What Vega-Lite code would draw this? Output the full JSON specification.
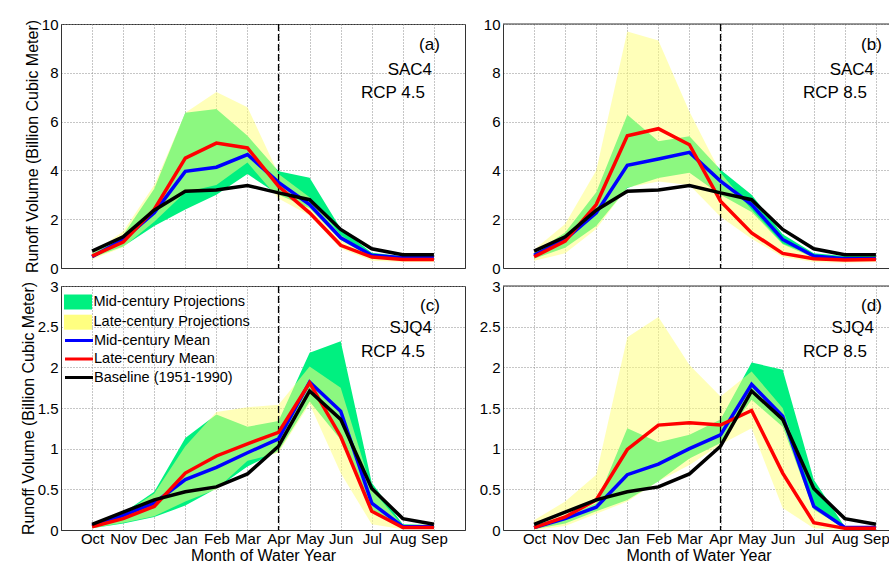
{
 "$schema": "https://vega.github.io/schema/vega-lite/v6.json",
 "padding": {"left": 19, "top": 16, "right": 0, "bottom": 0},
 "autosize": {"type": "pad"},
 "background": "white",
 "datasets": {
  "pa": [
   {"m":1,"mlo":0.42,"mhi":0.58,"llo":0.35,"lhi":0.62,"mm":0.46,"lm":0.49,"bl":0.69},
   {"m":2,"mlo":0.88,"mhi":1.35,"llo":0.85,"lhi":1.5,"mm":1.17,"lm":1.06,"bl":1.28},
   {"m":3,"mlo":1.72,"mhi":3.25,"llo":1.9,"lhi":3.4,"mm":2.26,"lm":2.4,"bl":2.37},
   {"m":4,"mlo":2.4,"mhi":6.36,"llo":3.1,"lhi":6.36,"mm":3.96,"lm":4.5,"bl":3.15},
   {"m":5,"mlo":3.0,"mhi":6.52,"llo":3.4,"lhi":7.21,"mm":4.13,"lm":5.12,"bl":3.2},
   {"m":6,"mlo":3.85,"mhi":5.42,"llo":4.32,"lhi":6.59,"mm":4.65,"lm":4.92,"bl":3.38},
   {"m":7,"mlo":3.0,"mhi":3.97,"llo":2.85,"lhi":3.85,"mm":3.51,"lm":3.35,"bl":3.08},
   {"m":8,"mlo":2.45,"mhi":3.7,"llo":2.15,"lhi":2.9,"mm":2.6,"lm":2.26,"bl":2.8},
   {"m":9,"mlo":1.15,"mhi":1.61,"llo":0.8,"lhi":1.35,"mm":1.24,"lm":0.93,"bl":1.58},
   {"m":10,"mlo":0.42,"mhi":0.62,"llo":0.3,"lhi":0.5,"mm":0.52,"lm":0.45,"bl":0.79},
   {"m":11,"mlo":0.33,"mhi":0.48,"llo":0.25,"lhi":0.42,"mm":0.42,"lm":0.35,"bl":0.54},
   {"m":12,"mlo":0.33,"mhi":0.48,"llo":0.25,"lhi":0.42,"mm":0.42,"lm":0.35,"bl":0.54}
  ],
  "pb": [
   {"m":1,"mlo":0.38,"mhi":0.63,"llo":0.3,"lhi":0.75,"mm":0.52,"lm":0.46,"bl":0.69},
   {"m":2,"mlo":0.83,"mhi":1.45,"llo":0.6,"lhi":1.8,"mm":1.17,"lm":1.1,"bl":1.28},
   {"m":3,"mlo":1.72,"mhi":3.1,"llo":1.6,"lhi":4.0,"mm":2.26,"lm":2.6,"bl":2.37},
   {"m":4,"mlo":3.28,"mhi":6.28,"llo":3.3,"lhi":9.69,"mm":4.21,"lm":5.42,"bl":3.15},
   {"m":5,"mlo":3.69,"mhi":5.19,"llo":3.55,"lhi":9.32,"mm":4.47,"lm":5.71,"bl":3.2},
   {"m":6,"mlo":3.9,"mhi":5.4,"llo":3.4,"lhi":6.4,"mm":4.74,"lm":5.05,"bl":3.38},
   {"m":7,"mlo":3.0,"mhi":4.03,"llo":2.1,"lhi":3.9,"mm":3.56,"lm":2.74,"bl":3.08},
   {"m":8,"mlo":2.3,"mhi":3.0,"llo":1.2,"lhi":2.4,"mm":2.6,"lm":1.44,"bl":2.8},
   {"m":9,"mlo":0.97,"mhi":1.38,"llo":0.45,"lhi":1.0,"mm":1.17,"lm":0.6,"bl":1.58},
   {"m":10,"mlo":0.42,"mhi":0.6,"llo":0.25,"lhi":0.5,"mm":0.49,"lm":0.38,"bl":0.79},
   {"m":11,"mlo":0.35,"mhi":0.49,"llo":0.22,"lhi":0.42,"mm":0.38,"lm":0.33,"bl":0.54},
   {"m":12,"mlo":0.35,"mhi":0.49,"llo":0.25,"lhi":0.42,"mm":0.38,"lm":0.35,"bl":0.54}
  ],
  "pc": [
   {"m":1,"mlo":0.02,"mhi":0.08,"llo":0.02,"lhi":0.08,"mm":0.05,"lm":0.04,"bl":0.07},
   {"m":2,"mlo":0.08,"mhi":0.21,"llo":0.09,"lhi":0.2,"mm":0.18,"lm":0.14,"bl":0.22},
   {"m":3,"mlo":0.16,"mhi":0.47,"llo":0.17,"lhi":0.45,"mm":0.33,"lm":0.29,"bl":0.37},
   {"m":4,"mlo":0.3,"mhi":1.13,"llo":0.35,"lhi":1.03,"mm":0.62,"lm":0.7,"bl":0.47},
   {"m":5,"mlo":0.51,"mhi":1.42,"llo":0.5,"lhi":1.45,"mm":0.77,"lm":0.91,"bl":0.53},
   {"m":6,"mlo":0.78,"mhi":1.27,"llo":0.85,"lhi":1.51,"mm":0.95,"lm":1.06,"bl":0.69},
   {"m":7,"mlo":0.97,"mhi":1.34,"llo":0.95,"lhi":1.54,"mm":1.12,"lm":1.2,"bl":1.03},
   {"m":8,"mlo":1.58,"mhi":2.18,"llo":1.55,"lhi":2.01,"mm":1.82,"lm":1.81,"bl":1.71},
   {"m":9,"mlo":1.11,"mhi":2.32,"llo":0.7,"lhi":1.75,"mm":1.46,"lm":1.15,"bl":1.36},
   {"m":10,"mlo":0.25,"mhi":0.58,"llo":0.07,"lhi":0.5,"mm":0.33,"lm":0.23,"bl":0.51},
   {"m":11,"mlo":0.02,"mhi":0.07,"llo":0.01,"lhi":0.05,"mm":0.04,"lm":0.03,"bl":0.14},
   {"m":12,"mlo":0.02,"mhi":0.06,"llo":0.01,"lhi":0.05,"mm":0.04,"lm":0.03,"bl":0.07}
  ],
  "pd": [
   {"m":1,"mlo":0.01,"mhi":0.06,"llo":0.0,"lhi":0.12,"mm":0.03,"lm":0.03,"bl":0.07},
   {"m":2,"mlo":0.08,"mhi":0.16,"llo":0.05,"lhi":0.35,"mm":0.14,"lm":0.16,"bl":0.22},
   {"m":3,"mlo":0.23,"mhi":0.33,"llo":0.2,"lhi":0.68,"mm":0.28,"lm":0.37,"bl":0.37},
   {"m":4,"mlo":0.37,"mhi":1.25,"llo":0.35,"lhi":2.37,"mm":0.68,"lm":0.99,"bl":0.47},
   {"m":5,"mlo":0.6,"mhi":1.08,"llo":0.6,"lhi":2.62,"mm":0.81,"lm":1.29,"bl":0.53},
   {"m":6,"mlo":0.88,"mhi":1.17,"llo":0.8,"lhi":2.03,"mm":1.0,"lm":1.32,"bl":0.69},
   {"m":7,"mlo":1.07,"mhi":1.36,"llo":1.05,"lhi":1.64,"mm":1.17,"lm":1.29,"bl":1.03},
   {"m":8,"mlo":1.6,"mhi":2.06,"llo":1.25,"lhi":1.95,"mm":1.79,"lm":1.47,"bl":1.71},
   {"m":9,"mlo":1.27,"mhi":1.97,"llo":0.27,"lhi":1.5,"mm":1.4,"lm":0.7,"bl":1.36},
   {"m":10,"mlo":0.25,"mhi":0.62,"llo":0.02,"lhi":0.3,"mm":0.29,"lm":0.09,"bl":0.51},
   {"m":11,"mlo":0.02,"mhi":0.04,"llo":0.0,"lhi":0.05,"mm":0.03,"lm":0.02,"bl":0.14},
   {"m":12,"mlo":0.02,"mhi":0.04,"llo":0.0,"lhi":0.05,"mm":0.03,"lm":0.02,"bl":0.07}
  ]
 },
 "columns": 2,
 "spacing": {"row": 18, "column": 38},
 "bounds": "flush",
 "resolve": {"scale": {"x": "independent", "y": "independent", "fill": "independent", "stroke": "independent"}, "legend": {"fill": "independent", "stroke": "independent"}},
 "concat": [
  {
   "width": 404, "height": 244,
   "data": {"name": "pa"},
   "layer": [
    {"mark": {"type": "area"}, "encoding": {
      "x": {"field": "m", "type": "quantitative", "scale": {"domain": [0, 13], "nice": false, "zero": false}, "axis": {"values": [1,2,3,4,5,6,7,8,9,10,11,12], "tickCount": 20, "labels": false, "title": null}},
      "y": {"field": "mlo", "type": "quantitative", "scale": {"domain": [0, 10], "nice": false}, "axis": {"values": [0,2,4,6,8,10], "tickCount": 20, "labelExpr": "'' + datum.value", "title": "Runoff Volume (Billion Cubic Meter)"}},
      "y2": {"field": "mhi"},
      "fill": {"datum": "Mid-century Projections", "type": "nominal", "scale": {"domain": ["Mid-century Projections","Late-century Projections"], "range": ["#00F080","#FFFF80"]}, "legend": null}}},
    {"mark": {"type": "area", "fillOpacity": 0.55}, "encoding": {"x": {"field": "m", "type": "quantitative"}, "y": {"field": "llo", "type": "quantitative"}, "y2": {"field": "lhi"}, "fill": {"datum": "Late-century Projections", "type": "nominal", "legend": null}}},
    {"data": {"values": [{}]}, "mark": {"type": "rule", "color": "#000", "strokeWidth": 1.3, "strokeDash": [7, 3]}, "encoding": {"x": {"datum": 7, "type": "quantitative"}}},
    {"mark": {"type": "line", "strokeWidth": 3.5}, "encoding": {"x": {"field": "m", "type": "quantitative"}, "y": {"field": "mm", "type": "quantitative"}, "stroke": {"datum": "Mid-century Mean", "type": "nominal", "scale": {"domain": ["Mid-century Mean","Late-century Mean","Baseline (1951-1990)"], "range": ["#0000FF","#FF0000","#000000"]}, "legend": null}}},
    {"mark": {"type": "line", "strokeWidth": 3.5}, "encoding": {"x": {"field": "m", "type": "quantitative"}, "y": {"field": "lm", "type": "quantitative"}, "stroke": {"datum": "Late-century Mean", "type": "nominal", "legend": null}}},
    {"mark": {"type": "line", "strokeWidth": 3.5}, "encoding": {"x": {"field": "m", "type": "quantitative"}, "y": {"field": "bl", "type": "quantitative"}, "stroke": {"datum": "Baseline (1951-1990)", "type": "nominal", "legend": null}}},
    {"data": {"values": [{}]}, "mark": {"type": "text", "text": "(a)", "align": "right", "baseline": "middle", "fontSize": 17, "color": "#000"}, "encoding": {"x": {"datum": 12.19, "type": "quantitative"}, "y": {"datum": 9.12, "type": "quantitative"}}},
    {"data": {"values": [{}]}, "mark": {"type": "text", "text": "SAC4", "align": "right", "baseline": "middle", "fontSize": 17, "color": "#000"}, "encoding": {"x": {"datum": 11.94, "type": "quantitative"}, "y": {"datum": 8.13, "type": "quantitative"}}},
    {"data": {"values": [{}]}, "mark": {"type": "text", "text": "RCP 4.5", "align": "right", "baseline": "middle", "fontSize": 17, "color": "#000"}, "encoding": {"x": {"datum": 11.71, "type": "quantitative"}, "y": {"datum": 7.16, "type": "quantitative"}}}
   ]
  },
  {
   "width": 391, "height": 244,
   "view": {"stroke": null},
   "data": {"name": "pb"},
   "layer": [
    {"mark": {"type": "area"}, "encoding": {
      "x": {"field": "m", "type": "quantitative", "scale": {"domain": [0, 12.582], "nice": false, "zero": false}, "axis": {"values": [1,2,3,4,5,6,7,8,9,10,11,12], "tickCount": 20, "labels": false, "title": null}},
      "y": {"field": "mlo", "type": "quantitative", "scale": {"domain": [0, 10], "nice": false}, "axis": {"values": [0,2,4,6,8,10], "tickCount": 20, "labelExpr": "'' + datum.value", "title": null}},
      "y2": {"field": "mhi"},
      "fill": {"datum": "Mid-century Projections", "type": "nominal", "scale": {"domain": ["Mid-century Projections","Late-century Projections"], "range": ["#00F080","#FFFF80"]}, "legend": null}}},
    {"mark": {"type": "area", "fillOpacity": 0.55}, "encoding": {"x": {"field": "m", "type": "quantitative"}, "y": {"field": "llo", "type": "quantitative"}, "y2": {"field": "lhi"}, "fill": {"datum": "Late-century Projections", "type": "nominal", "legend": null}}},
    {"data": {"values": [{}]}, "mark": {"type": "rule", "color": "#333", "strokeWidth": 1}, "encoding": {"y": {"datum": 10, "type": "quantitative"}}},
    {"data": {"values": [{}]}, "mark": {"type": "rule", "color": "#000", "strokeWidth": 1.3, "strokeDash": [7, 3]}, "encoding": {"x": {"datum": 7, "type": "quantitative"}}},
    {"mark": {"type": "line", "strokeWidth": 3.5}, "encoding": {"x": {"field": "m", "type": "quantitative"}, "y": {"field": "mm", "type": "quantitative"}, "stroke": {"datum": "Mid-century Mean", "type": "nominal", "scale": {"domain": ["Mid-century Mean","Late-century Mean","Baseline (1951-1990)"], "range": ["#0000FF","#FF0000","#000000"]}, "legend": null}}},
    {"mark": {"type": "line", "strokeWidth": 3.5}, "encoding": {"x": {"field": "m", "type": "quantitative"}, "y": {"field": "lm", "type": "quantitative"}, "stroke": {"datum": "Late-century Mean", "type": "nominal", "legend": null}}},
    {"mark": {"type": "line", "strokeWidth": 3.5}, "encoding": {"x": {"field": "m", "type": "quantitative"}, "y": {"field": "bl", "type": "quantitative"}, "stroke": {"datum": "Baseline (1951-1990)", "type": "nominal", "legend": null}}},
    {"data": {"values": [{}]}, "mark": {"type": "text", "text": "(b)", "align": "right", "baseline": "middle", "fontSize": 17, "color": "#000"}, "encoding": {"x": {"datum": 12.19, "type": "quantitative"}, "y": {"datum": 9.12, "type": "quantitative"}}},
    {"data": {"values": [{}]}, "mark": {"type": "text", "text": "SAC4", "align": "right", "baseline": "middle", "fontSize": 17, "color": "#000"}, "encoding": {"x": {"datum": 11.94, "type": "quantitative"}, "y": {"datum": 8.13, "type": "quantitative"}}},
    {"data": {"values": [{}]}, "mark": {"type": "text", "text": "RCP 8.5", "align": "right", "baseline": "middle", "fontSize": 17, "color": "#000"}, "encoding": {"x": {"datum": 11.71, "type": "quantitative"}, "y": {"datum": 7.16, "type": "quantitative"}}}
   ]
  },
  {
   "width": 404, "height": 244,
   "data": {"name": "pc"},
   "layer": [
    {"mark": {"type": "area"}, "encoding": {
      "x": {"field": "m", "type": "quantitative", "scale": {"domain": [0, 13], "nice": false, "zero": false}, "axis": {"values": [1,2,3,4,5,6,7,8,9,10,11,12], "tickCount": 20, "labelExpr": "['','Oct','Nov','Dec','Jan','Feb','Mar','Apr','May','Jun','Jul','Aug','Sep'][datum.value]", "labelOverlap": false, "title": "Month of Water Year"}},
      "y": {"field": "mlo", "type": "quantitative", "scale": {"domain": [0, 3], "nice": false}, "axis": {"values": [0,0.5,1,1.5,2,2.5,3], "tickCount": 20, "labelExpr": "'' + datum.value", "title": "Runoff Volume (Billion Cubic Meter)"}},
      "y2": {"field": "mhi"},
      "fill": {"datum": "Mid-century Projections", "type": "nominal", "scale": {"domain": ["Mid-century Projections","Late-century Projections"], "range": ["#00F080","#FFFF80"]},
        "legend": {"orient": "none", "legendX": 9.5, "legendY": 8.5, "title": null, "padding": 0, "labelFont": "Liberation Sans", "labelFontSize": 14.5, "labelColor": "#000", "labelOffset": 8, "rowPadding": 4.2, "symbolType": "M-1.87,-1H1.87V1H-1.87Z", "symbolSize": 225, "symbolStrokeWidth": 0, "symbolOpacity": 1}}}},
    {"mark": {"type": "area", "fillOpacity": 0.55}, "encoding": {"x": {"field": "m", "type": "quantitative"}, "y": {"field": "llo", "type": "quantitative"}, "y2": {"field": "lhi"}, "fill": {"datum": "Late-century Projections", "type": "nominal"}}},
    {"data": {"values": [{}]}, "mark": {"type": "rule", "color": "#000", "strokeWidth": 1.3, "strokeDash": [7, 3]}, "encoding": {"x": {"datum": 7, "type": "quantitative"}}},
    {"mark": {"type": "line", "strokeWidth": 3.5}, "encoding": {"x": {"field": "m", "type": "quantitative"}, "y": {"field": "mm", "type": "quantitative"}, "stroke": {"datum": "Mid-century Mean", "type": "nominal", "scale": {"domain": ["Mid-century Mean","Late-century Mean","Baseline (1951-1990)"], "range": ["#0000FF","#FF0000","#000000"]},
      "legend": {"orient": "none", "legendX": 9, "legendY": 45.5, "title": null, "padding": 0, "labelFont": "Liberation Sans", "labelFontSize": 14.5, "labelColor": "#000", "labelOffset": 6, "rowPadding": 2.5, "symbolType": "M-1.87,0H1.87", "symbolSize": 225, "symbolStrokeWidth": 3, "symbolOpacity": 1}}}},
    {"mark": {"type": "line", "strokeWidth": 3.5}, "encoding": {"x": {"field": "m", "type": "quantitative"}, "y": {"field": "lm", "type": "quantitative"}, "stroke": {"datum": "Late-century Mean", "type": "nominal"}}},
    {"mark": {"type": "line", "strokeWidth": 3.5}, "encoding": {"x": {"field": "m", "type": "quantitative"}, "y": {"field": "bl", "type": "quantitative"}, "stroke": {"datum": "Baseline (1951-1990)", "type": "nominal"}}},
    {"data": {"values": [{}]}, "mark": {"type": "text", "text": "(c)", "align": "right", "baseline": "middle", "fontSize": 17, "color": "#000"}, "encoding": {"x": {"datum": 12.19, "type": "quantitative"}, "y": {"datum": 2.76, "type": "quantitative"}}},
    {"data": {"values": [{}]}, "mark": {"type": "text", "text": "SJQ4", "align": "right", "baseline": "middle", "fontSize": 17, "color": "#000"}, "encoding": {"x": {"datum": 11.94, "type": "quantitative"}, "y": {"datum": 2.48, "type": "quantitative"}}},
    {"data": {"values": [{}]}, "mark": {"type": "text", "text": "RCP 4.5", "align": "right", "baseline": "middle", "fontSize": 17, "color": "#000"}, "encoding": {"x": {"datum": 11.71, "type": "quantitative"}, "y": {"datum": 2.19, "type": "quantitative"}}}
   ]
  },
  {
   "width": 391, "height": 244,
   "view": {"stroke": null},
   "data": {"name": "pd"},
   "layer": [
    {"mark": {"type": "area"}, "encoding": {
      "x": {"field": "m", "type": "quantitative", "scale": {"domain": [0, 12.582], "nice": false, "zero": false}, "axis": {"values": [1,2,3,4,5,6,7,8,9,10,11,12], "tickCount": 20, "labelExpr": "['','Oct','Nov','Dec','Jan','Feb','Mar','Apr','May','Jun','Jul','Aug','Sep'][datum.value]", "labelOverlap": false, "title": "Month of Water Year"}},
      "y": {"field": "mlo", "type": "quantitative", "scale": {"domain": [0, 3], "nice": false}, "axis": {"values": [0,0.5,1,1.5,2,2.5,3], "tickCount": 20, "labelExpr": "'' + datum.value", "title": null}},
      "y2": {"field": "mhi"},
      "fill": {"datum": "Mid-century Projections", "type": "nominal", "scale": {"domain": ["Mid-century Projections","Late-century Projections"], "range": ["#00F080","#FFFF80"]}, "legend": null}}},
    {"mark": {"type": "area", "fillOpacity": 0.55}, "encoding": {"x": {"field": "m", "type": "quantitative"}, "y": {"field": "llo", "type": "quantitative"}, "y2": {"field": "lhi"}, "fill": {"datum": "Late-century Projections", "type": "nominal", "legend": null}}},
    {"data": {"values": [{}]}, "mark": {"type": "rule", "color": "#333", "strokeWidth": 1}, "encoding": {"y": {"datum": 3, "type": "quantitative"}}},
    {"data": {"values": [{}]}, "mark": {"type": "rule", "color": "#000", "strokeWidth": 1.3, "strokeDash": [7, 3]}, "encoding": {"x": {"datum": 7, "type": "quantitative"}}},
    {"mark": {"type": "line", "strokeWidth": 3.5}, "encoding": {"x": {"field": "m", "type": "quantitative"}, "y": {"field": "mm", "type": "quantitative"}, "stroke": {"datum": "Mid-century Mean", "type": "nominal", "scale": {"domain": ["Mid-century Mean","Late-century Mean","Baseline (1951-1990)"], "range": ["#0000FF","#FF0000","#000000"]}, "legend": null}}},
    {"mark": {"type": "line", "strokeWidth": 3.5}, "encoding": {"x": {"field": "m", "type": "quantitative"}, "y": {"field": "lm", "type": "quantitative"}, "stroke": {"datum": "Late-century Mean", "type": "nominal", "legend": null}}},
    {"mark": {"type": "line", "strokeWidth": 3.5}, "encoding": {"x": {"field": "m", "type": "quantitative"}, "y": {"field": "bl", "type": "quantitative"}, "stroke": {"datum": "Baseline (1951-1990)", "type": "nominal", "legend": null}}},
    {"data": {"values": [{}]}, "mark": {"type": "text", "text": "(d)", "align": "right", "baseline": "middle", "fontSize": 17, "color": "#000"}, "encoding": {"x": {"datum": 12.19, "type": "quantitative"}, "y": {"datum": 2.76, "type": "quantitative"}}},
    {"data": {"values": [{}]}, "mark": {"type": "text", "text": "SJQ4", "align": "right", "baseline": "middle", "fontSize": 17, "color": "#000"}, "encoding": {"x": {"datum": 11.94, "type": "quantitative"}, "y": {"datum": 2.48, "type": "quantitative"}}},
    {"data": {"values": [{}]}, "mark": {"type": "text", "text": "RCP 8.5", "align": "right", "baseline": "middle", "fontSize": 17, "color": "#000"}, "encoding": {"x": {"datum": 11.71, "type": "quantitative"}, "y": {"datum": 2.19, "type": "quantitative"}}}
   ]
  }
 ],
 "config": {
  "font": "Liberation Sans",
  "view": {"stroke": "#333"},
  "axis": {"grid": true, "gridColor": "#8c8c8c", "gridDash": [1, 2], "gridWidth": 1, "ticks": false, "tickSize": 0, "domainColor": "#333", "domainWidth": 1, "labelFont": "Liberation Sans", "labelFontSize": 15, "labelColor": "#000", "titleFont": "Liberation Sans", "titleFontSize": 16, "titleFontWeight": "normal", "titleColor": "#000", "labelFlush": false},
  "axisX": {"labelPadding": 1, "titlePadding": 1},
  "axisY": {"labelPadding": 3, "titlePadding": 1},
  "text": {"font": "Liberation Sans"}
 }
}
